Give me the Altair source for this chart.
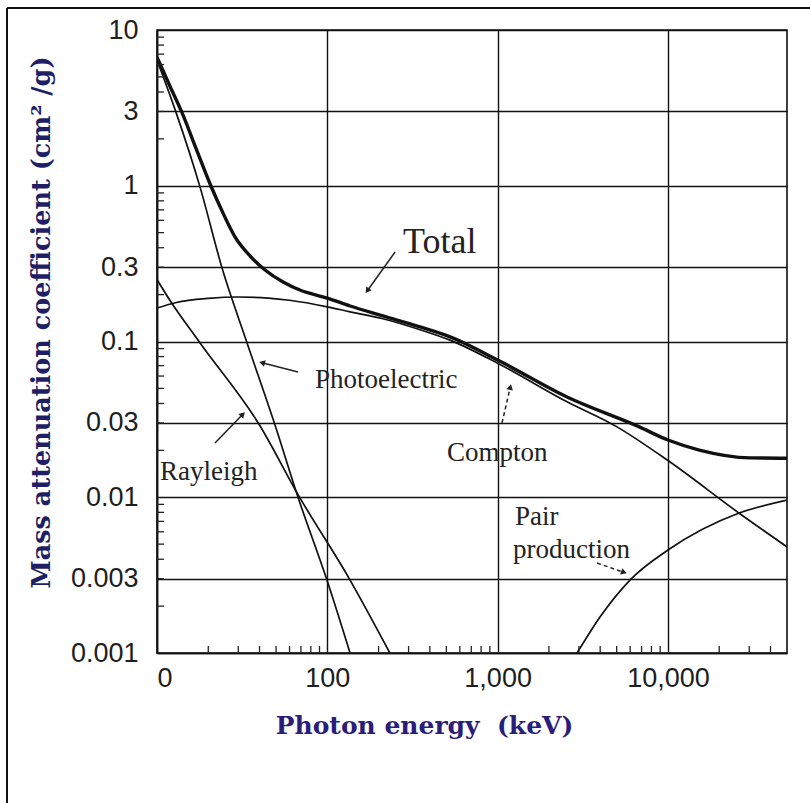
import math
import altair as alt
import pandas as pd

# Photon energy (keV) and mass attenuation coefficient (cm^2/g) per interaction
total_e = [10, 11.9, 14.2, 16.9, 20.5, 24.1, 28.7, 35.2, 43.1, 55, 69, 100, 136, 212,
           350, 525, 1000, 2555, 6785, 10000, 15280, 30340, 50000]
total_mu = [6.7, 4.37, 2.85, 1.75, 1.026, 0.688, 0.47, 0.354, 0.288, 0.241, 0.214, 0.190,
            0.169, 0.146, 0.124, 0.107, 0.076, 0.044, 0.0283, 0.0233, 0.0201, 0.0179, 0.0178]

compton_e = [10, 13, 20, 30, 45, 60, 100, 136, 212, 350, 525, 1000, 2555, 5020, 10000,
             26200, 50000]
compton_mu = [0.164, 0.178, 0.189, 0.193, 0.19, 0.184, 0.167, 0.155, 0.140, 0.119, 0.102,
              0.0725, 0.041, 0.0283, 0.0172, 0.0079, 0.0048]

photo_e = [10, 12.8, 17.9, 24.1, 33.8, 49.3, 67.3, 99.5, 136]
photo_mu = [6.42, 3.06, 0.98, 0.296, 0.0978, 0.0291, 0.010, 0.00294, 0.001]

rayleigh_e = [10, 11.9, 17.9, 40.3, 67.3, 136, 233]
rayleigh_mu = [0.25, 0.184, 0.0978, 0.0287, 0.0104, 0.00294, 0.001]

pair_e = [2925, 3396, 3990, 5985, 10000, 26200, 50000]
pair_mu = [0.001, 0.0013, 0.0017, 0.00294, 0.00458, 0.00792, 0.0096]

# Axis ticks
x_ticks = [10, 100, 1000, 10000]
y_ticks = [0.001, 0.003, 0.01, 0.03, 0.1, 0.3, 1, 3, 10]

# Curve labels and their pointer arrows (energy, coefficient)
label_text = ["Photoelectric", "Rayleigh", "Compton", "Pair", "production"]
label_e = [84.7, 10.4, 505, 1265, 1232]
label_mu = [0.0566, 0.0145, 0.0192, 0.0075, 0.0046]

total_label_e = [278]
total_label_mu = [0.435]

arrow_name = ["Total", "Photoelectric", "Rayleigh", "Compton", "Pair"]
arrow_e0 = [250, 67.3, 21.9, 1061, 3837]
arrow_mu0 = [0.3755, 0.0637, 0.0223, 0.030, 0.00378]
arrow_e1 = [173, 41.9, 31.6, 1183, 5450]
arrow_mu1 = [0.2143, 0.0728, 0.0337, 0.0503, 0.00331]
arrow_dashed = [False, False, False, True, True]

W, H = 630, 623
X_DOM = [10, 50000]
Y_DOM = [0.001, 10]

xscale = alt.Scale(type="log", domain=X_DOM, nice=False)
yscale = alt.Scale(type="log", domain=Y_DOM, nice=False)

curves = pd.concat([
    pd.DataFrame({"energy": total_e, "mu": total_mu, "series": "Total"}),
    pd.DataFrame({"energy": compton_e, "mu": compton_mu, "series": "Compton"}),
    pd.DataFrame({"energy": photo_e, "mu": photo_mu, "series": "Photoelectric"}),
    pd.DataFrame({"energy": rayleigh_e, "mu": rayleigh_mu, "series": "Rayleigh"}),
    pd.DataFrame({"energy": pair_e, "mu": pair_mu, "series": "Pair production"}),
], ignore_index=True)
curves["order"] = curves.index

x_axis = alt.Axis(
    values=x_ticks,
    labelExpr="datum.value == 10 ? '0' : format(datum.value, ',')",
    grid=True, gridColor="#111111", gridWidth=1.4,
    ticks=False, tickSize=0,
    domainColor="#111111", domainWidth=1.6,
    labelFont="Liberation Sans", labelFontSize=27, labelColor="#1e1e1e",
    labelPadding=12, labelFlush=True, labelOverlap=False,
    title="Photon energy \u00a0(keV)",
    titleFont="DejaVu Serif", titleFontWeight="bold", titleFontSize=25,
    titleColor="#2b1d7a", titleX=267, titleY=72,
    titleAlign="center", titleBaseline="middle",
)
y_axis = alt.Axis(
    values=y_ticks,
    labelExpr="datum.value >= 1 ? format(datum.value, 'd') : format(datum.value, '.3~f')",
    grid=True, gridColor="#111111", gridWidth=1.4,
    ticks=False, tickSize=0,
    domainColor="#111111", domainWidth=1.6,
    labelFont="Liberation Sans", labelFontSize=27, labelColor="#1e1e1e",
    labelPadding=19, labelOverlap=False, labelBound=False,
    title="Mass attenuation coefficient (cm² /g)",
    titleFont="DejaVu Serif", titleFontWeight="bold", titleFontSize=25.5,
    titleColor="#1f1f66", titleX=-116, titleY=292, titleAngle=270,
    titleAlign="center", titleBaseline="middle",
)


def X(f="energy"):
    return alt.X(f"{f}:Q", scale=xscale, axis=x_axis)


def Y(f="mu"):
    return alt.Y(f"{f}:Q", scale=yscale, axis=y_axis)


# Interaction curves; the total is drawn heavier
lines = alt.Chart(curves).mark_line(interpolate="monotone", color="#111111", clip=True).encode(
    x=X(), y=Y(),
    detail="series:N",
    order="order:Q",
    strokeWidth=alt.condition(alt.datum.series == "Total", alt.value(3.4), alt.value(1.7)),
)

# Minor tick marks drawn inward from the left and bottom axes
minor_y = [m * d for d in [0.001, 0.01, 0.1, 1] for m in range(2, 10)]
minor_x = [m * d for d in [10, 100, 1000, 10000] for m in range(2, 10) if m * d < 50000]
yticks_minor = alt.Chart(pd.DataFrame({"mu": minor_y})).mark_rule(color="#222222", strokeWidth=1.3).encode(
    y=Y(), x=alt.value(0), x2=alt.value(7))
xticks_minor = alt.Chart(pd.DataFrame({"energy": minor_x})).mark_rule(color="#222222", strokeWidth=1.3).encode(
    x=X(), y=alt.value(H), y2=alt.value(H - 7))

# Curve labels
labels = alt.Chart(pd.DataFrame({"energy": label_e, "mu": label_mu, "text": label_text})).mark_text(
    font="Liberation Serif", fontSize=27, color="#222222", align="left", baseline="middle"
).encode(x=X(), y=Y(), text="text:N")
total_label = alt.Chart(pd.DataFrame({"energy": total_label_e, "mu": total_label_mu, "text": ["Total"]})).mark_text(
    font="Liberation Serif", fontSize=36, color="#222222", align="left", baseline="middle"
).encode(x=X(), y=Y(), text="text:N")

# Arrows: shafts and heads
ppd_x = W / math.log10(X_DOM[1] / X_DOM[0])
ppd_y = H / math.log10(Y_DOM[1] / Y_DOM[0])
shaft_rows, head_rows = [], []
for name, e0, m0, e1, m1, dashed in zip(arrow_name, arrow_e0, arrow_mu0, arrow_e1, arrow_mu1, arrow_dashed):
    shaft_rows.append({"arrow": name, "energy": e0, "mu": m0, "dashed": dashed, "k": 0})
    shaft_rows.append({"arrow": name, "energy": e1, "mu": m1, "dashed": dashed, "k": 1})
    dx = ppd_x * math.log10(e1 / e0)
    dy = -ppd_y * math.log10(m1 / m0)
    ang = math.degrees(math.atan2(dx, -dy)) % 360
    head_rows.append({"arrow": name, "energy": e1, "mu": m1, "angle": ang})
shafts = pd.DataFrame(shaft_rows)
heads = pd.DataFrame(head_rows)

solid_shafts = alt.Chart(shafts[~shafts["dashed"]]).mark_line(color="#222222", strokeWidth=1.5).encode(
    x=X(), y=Y(), detail="arrow:N", order="k:Q")
dashed_shafts = alt.Chart(shafts[shafts["dashed"]]).mark_line(color="#222222", strokeWidth=1.5,
                                                             strokeDash=[4, 3]).encode(
    x=X(), y=Y(), detail="arrow:N", order="k:Q")
arrow_heads = alt.Chart(heads).mark_point(shape="triangle", filled=True, color="#222222", size=45, opacity=1).encode(
    x=X(), y=Y(), angle=alt.Angle("angle:Q", scale=None))

# Frame lines along the top and left edges of the figure
frame = pd.DataFrame({"a": [0]})
left_edge = alt.Chart(frame).mark_rule(color="#111111", strokeWidth=2).encode(
    x=alt.value(-150), y=alt.value(-22), y2=alt.value(803 - 30))
top_edge = alt.Chart(frame).mark_rule(color="#111111", strokeWidth=2).encode(
    x=alt.value(-150), x2=alt.value(810 - 157), y=alt.value(-22))

chart = alt.layer(
    lines, yticks_minor, xticks_minor, labels, total_label,
    solid_shafts, dashed_shafts, arrow_heads, left_edge, top_edge,
).properties(
    width=W, height=H,
    autosize=alt.AutoSizeParams(type="none"),
    padding={"left": 157, "top": 30, "right": 23, "bottom": 150},
    background="white",
).configure_view(stroke="#111111", strokeWidth=1.6)

chart.save("out.html", embed_options={"renderer": "svg", "actions": False})
